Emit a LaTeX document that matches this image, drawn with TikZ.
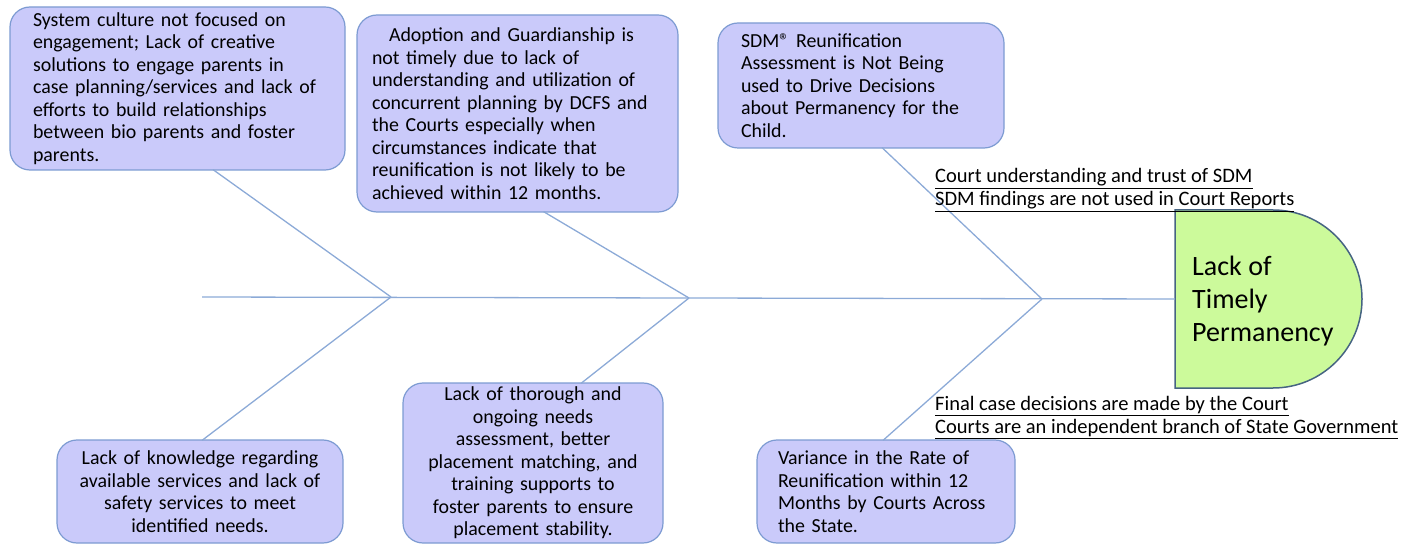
\documentclass[tikz,border=0pt]{standalone}
\usepackage{fontspec}
\setmainfont{Carlito}
\usetikzlibrary{calc}
\definecolor{boxfill}{RGB}{202,202,250}
\definecolor{boxline}{RGB}{125,155,210}
\definecolor{boneline}{RGB}{140,170,215}
\definecolor{headfill}{RGB}{204,250,155}
\definecolor{headline}{RGB}{70,100,130}
\tikzset{
  causebox/.style={draw=boxline, fill=boxfill, line width=1.2pt, rounded corners=20pt,
    inner sep=0pt, font=\fontsize{19.9}{22.5}\selectfont},
  bone/.style={draw=boneline, line width=1.3pt},
  note/.style={inner sep=0pt, align=left, font=\fontsize{20.5}{23}\selectfont, anchor=west},
}
\begin{document}
\begin{tikzpicture}[x=1pt,y=-1pt]
\useasboundingbox (0,0) rectangle (1406,545);
% head
\path[draw=headline, fill=headfill, line width=1.5pt]
  (1175,210) -- (1273,210) arc(-90:90:89) -- (1175,388) -- cycle;
\node[inner sep=0pt, align=left, anchor=west, font=\fontsize{28}{33}\selectfont]
  (head) at (1192,301) {Lack of\\Timely\\Permanency};
\coordinate (headw) at (1175,299);
% spine
\coordinate (tail) at (202,297);
\coordinate (j1) at (391,297);
\coordinate (j2) at (689,298);
\coordinate (j3) at (1042,299);
\draw[bone] (tail) -- (headw);
% boxes
\node[causebox, minimum width=335pt, minimum height=163pt, text width=289pt, align=left]
  (b1) at (177.5,88.5) {System culture not focused on\\engagement; Lack of creative\\solutions to engage parents in\\case planning/services and lack of\\efforts to build relationships\\between bio parents and foster\\parents.};
\node[causebox, minimum width=321pt, minimum height=197pt, text width=291pt, align=left]
  (b2) at (517.5,113.5) {\hspace*{17pt}Adoption and Guardianship is\\not timely due to lack of\\understanding and utilization of\\concurrent planning by DCFS and\\the Courts especially when\\circumstances indicate that\\reunification is not likely to be\\achieved within 12 months.};
\node[causebox, minimum width=286pt, minimum height=125pt, text width=240pt, align=left]
  (b3) at (861,85.5) {SDM® Reunification\\Assessment is Not Being\\used to Drive Decisions\\about Permanency for the\\Child.};
\node[causebox, minimum width=286pt, minimum height=103pt, text width=276pt, align=center]
  (b4) at (200,491.5) {Lack of knowledge regarding\\available services and lack of\\safety services to meet\\identified needs.};
\node[causebox, minimum width=260pt, minimum height=160pt, text width=254pt, align=center]
  (b5) at (533,463) {Lack of thorough and\\ongoing needs\\assessment, better\\placement matching, and\\training supports to\\foster parents to ensure\\placement stability.};
\node[causebox, minimum width=258pt, minimum height=103pt, text width=216pt, align=left]
  (b6) at (886,491.5) {Variance in the Rate of\\Reunification within 12\\Months by Courts Across\\the State.};
% bones
\draw[bone] ($(b1.south)+(35.5,-1)$) -- (j1);
\draw[bone] (j1) -- ($(b4.north)+(2,1)$);
\draw[bone] ($(b2.south)+(26,-1)$) -- (j2);
\draw[bone] (j2) -- ($(b5.north)+(48,1)$);
\draw[bone] ($(b3.south)+(21,-1)$) -- (j3);
\draw[bone] (j3) -- ($(b6.north)+(-3,1)$);
% notes
\node[note] (n1) at (935,190) {\underline{Court understanding and trust of SDM}\\\underline{SDM findings are not used in Court Reports}};
\node[note] (n2) at (935,418) {\underline{Final case decisions are made by the Court}\\\underline{Courts are an independent branch of State Government}};
\end{tikzpicture}
\end{document}
